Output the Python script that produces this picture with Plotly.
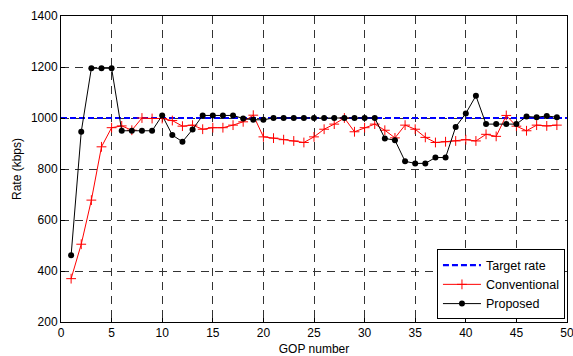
import plotly.graph_objects as go

gop = list(range(1, 50))
proposed = [462, 946, 1195, 1195, 1195, 950, 950, 950, 950, 1010,
            933, 907, 955, 1010, 1010, 1010, 1010, 998, 993, 993,
            1000, 1000, 1000, 1000, 1000, 1000, 1000, 1000, 1000, 1000,
            1000, 920, 913, 830, 822, 822, 845, 845, 965, 1018,
            1087, 976, 976, 976, 976, 1006, 1003, 1008, 1003]
conventional = [370, 505, 678, 887, 962, 969, 952, 1000, 998, 998,
                990, 968, 972, 956, 962, 962, 972, 985, 1011, 926,
                921, 915, 910, 904, 926, 956, 976, 1000, 946, 962,
                976, 952, 922, 972, 956, 924, 904, 907, 910, 915,
                910, 936, 928, 1010, 968, 950, 972, 969, 972]
target_x = [0, 50]
target_y = [1000, 1000]

fig = go.Figure()
fig.add_trace(go.Scatter(x=target_x, y=target_y, mode="lines", name="Target rate",
                         line=dict(color="#0000ff", width=2.2, dash="6px,3px")))
fig.add_trace(go.Scatter(x=gop, y=conventional, mode="lines+markers", name="Conventional",
                         line=dict(color="#ff0000", width=1),
                         marker=dict(symbol="cross-thin", size=7,
                                     line=dict(color="#ff0000", width=1))))
fig.add_trace(go.Scatter(x=gop, y=proposed, mode="lines+markers", name="Proposed",
                         line=dict(color="#000000", width=1),
                         marker=dict(symbol="circle", size=6, color="#000000")))

axis_common = dict(showline=True, linecolor="black", linewidth=1, mirror=True,
                   showgrid=True, gridcolor="#333333", griddash="8px,6px", gridwidth=1,
                   ticks="inside", ticklen=4, tickcolor="black", zeroline=False,
                   automargin=False, ticklabeloverflow="allow",
                   tickfont=dict(family="Liberation Sans, Arial", size=12, color="black"))

fig.update_layout(
    width=573, height=356,
    margin=dict(l=61, r=6, t=16, b=34),
    paper_bgcolor="white", plot_bgcolor="white",
    font=dict(family="Liberation Sans, Arial", size=12, color="black"),
    xaxis=dict(range=[0, 50], dtick=5, tick0=0,
               title=dict(text="GOP number", standoff=8, font=dict(size=12)),
               **axis_common),
    yaxis=dict(range=[200, 1400], dtick=200, tick0=200,
               title=dict(text="Rate (kbps)", standoff=6, font=dict(size=12)),
               **axis_common),
    legend=dict(x=0.743, y=0.237, xanchor="left", yanchor="top",
                bgcolor="white", bordercolor="black", borderwidth=1,
                font=dict(size=12.5), itemwidth=38, tracegroupgap=0),
    showlegend=True,
)

fig.write_html("out.html")
